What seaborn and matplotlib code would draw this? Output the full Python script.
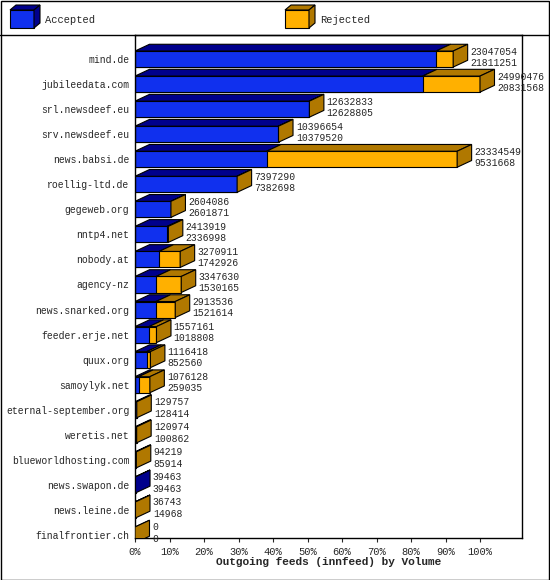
import matplotlib
matplotlib.use("Agg")
import matplotlib.pyplot as plt
import seaborn as sns
import pandas as pd
from matplotlib.patches import Polygon, Rectangle

hosts = ["mind.de","jubileedata.com","srl.newsdeef.eu","srv.newsdeef.eu","news.babsi.de",
         "roellig-ltd.de","gegeweb.org","nntp4.net","nobody.at","agency-nz","news.snarked.org",
         "feeder.erje.net","quux.org","samoylyk.net","eternal-september.org","weretis.net",
         "blueworldhosting.com","news.swapon.de","news.leine.de","finalfrontier.ch"]
offered = [23047054,24990476,12632833,10396654,23334549,7397290,2604086,2413919,3270911,3347630,
           2913536,1557161,1116418,1076128,129757,120974,94219,39463,36743,0]
accepted = [21811251,20831568,12628805,10379520,9531668,7382698,2601871,2336998,1742926,1530165,
            1521614,1018808,852560,259035,128414,100862,85914,39463,14968,0]

sns.set_style("white")
plt.rcParams['font.family'] = ['Liberation Mono', 'DejaVu Sans Mono']

mx = max(offered)
df = pd.DataFrame({"host": hosts,
                   "tot": [v / mx * 100 for v in offered],
                   "acc": [v / mx * 100 for v in accepted]})

W, H = 550, 580
fig = plt.figure(figsize=(5.5, 5.8), dpi=100)
ax = fig.add_axes([135 / W, (H - 538) / H, (522 - 135) / W, (538 - 35) / H])

BLUE, BLUE_D = "#1030ee", "#00008c"
ORG, ORG_D = "#ffb000", "#b07800"
hh = 0.32
sns.barplot(data=df, y="host", x="tot", orient="h", color=ORG, saturation=1,
            width=2 * hh, edgecolor="black", linewidth=0.8, ax=ax)
sns.barplot(data=df, y="host", x="acc", orient="h", color=BLUE, saturation=1,
            width=2 * hh, edgecolor="black", linewidth=0.8, ax=ax)

dx, dy = 4.2, -0.27
for i, r in df.iterrows():
    t, a = r.tot, r.acc
    ytop = i - hh
    if a > 0:
        ax.add_patch(Polygon([(0, ytop), (a, ytop), (a + dx, ytop + dy), (dx, ytop + dy)],
                             closed=True, fc=BLUE_D, ec="black", lw=0.8, zorder=3))
    if t > a or t == 0:
        ax.add_patch(Polygon([(a, ytop), (t, ytop), (t + dx, ytop + dy), (a + dx, ytop + dy)],
                             closed=True, fc=ORG_D, ec="black", lw=0.8, zorder=3))
    side = BLUE_D if t == a and t > 0 else ORG_D
    ax.add_patch(Polygon([(t, ytop), (t + dx, ytop + dy), (t + dx, i + hh + dy), (t, i + hh)],
                         closed=True, fc=side, ec="black", lw=0.8, zorder=3))
    ax.text(t + dx + 0.8, i - 0.3, f"{offered[i]}", fontsize=7, va="center", ha="left")
    ax.text(t + dx + 0.8, i + 0.15, f"{accepted[i]}", fontsize=7, va="center", ha="left")

xmax = (522 - 135) / 345 * 100
ax.set_xlim(0, xmax)
ax.set_ylim(19 + 3 / 25, -(59 - 35) / 25)
ax.set_xticks(range(0, 101, 10))
ax.set_xticklabels([f"{v}%" for v in range(0, 101, 10)], fontsize=7.5)
ax.tick_params(axis="x", length=3, direction="out", bottom=True)
ax.tick_params(axis="y", labelsize=7, length=0, pad=4)
ax.set_ylabel("")
ax.set_xlabel("Outgoing feeds (innfeed) by Volume", fontsize=8, fontweight="bold", labelpad=0)
for s in ax.spines.values():
    s.set_color("black"); s.set_linewidth(1)

fig.add_artist(Rectangle((0.5 / W, 0.5 / H), (W - 1.5) / W, (H - 1.5) / H, transform=fig.transFigure,
                         fill=False, ec="black", lw=1))
fig.add_artist(plt.Line2D([0, 1], [(H - 35) / H] * 2, transform=fig.transFigure, color="black", lw=1))

def legend_box(x, face, dark, label):
    def p(px, py):
        return (px / W, (H - py) / H)
    fig.add_artist(Polygon([p(x, 10), p(x + 24, 10), p(x + 24, 28), p(x, 28)], closed=True,
                           fc=face, ec="black", lw=0.8, transform=fig.transFigure))
    fig.add_artist(Polygon([p(x, 10), p(x + 6, 5), p(x + 30, 5), p(x + 24, 10)], closed=True,
                           fc=dark, ec="black", lw=0.8, transform=fig.transFigure))
    fig.add_artist(Polygon([p(x + 24, 10), p(x + 30, 5), p(x + 30, 23), p(x + 24, 28)], closed=True,
                           fc=dark, ec="black", lw=0.8, transform=fig.transFigure))
    fig.text((x + 35) / W, (H - 20) / H, label, fontsize=7.5, va="center")

legend_box(10, BLUE, BLUE_D, "Accepted")
legend_box(285, ORG, ORG_D, "Rejected")

fig.savefig("out.png", dpi=100)
